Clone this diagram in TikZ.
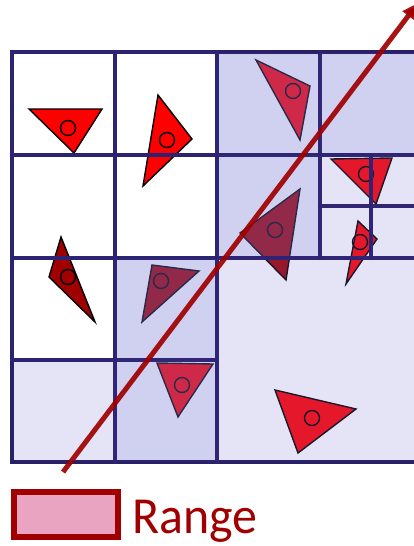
\documentclass[tikz,border=0pt]{standalone}
\usepackage{fontspec}
\newfontfamily\legendfont{Carlito}
\usetikzlibrary{arrows.meta}
\definecolor{navy}{RGB}{45,35,115}
\definecolor{cellblue}{RGB}{120,120,211}
\definecolor{darkred}{RGB}{160,0,0}
\definecolor{brightred}{RGB}{255,0,0}
\definecolor{pinkfill}{RGB}{232,164,192}
\begin{document}
\begin{tikzpicture}[x=1pt,y=-1pt,
  cellbox/.style={draw=navy,line width=3.6pt},
  whitecell/.style={cellbox},
  medcell/.style={cellbox,fill=cellblue,fill opacity=0.35,draw opacity=0.9},
  lightcell/.style={cellbox,fill=cellblue,fill opacity=0.2,draw opacity=0.9},
  tri/.style={draw=black,line width=1.4pt,line join=miter},
  ctr/.style={draw=black,line width=1.4pt},
  ray/.style={draw=darkred,line width=5pt,draw opacity=0.92,-{Triangle[length=16pt,width=14pt]}},
  legendbox/.style={draw=darkred,line width=5.5pt,fill=pinkfill}]
\useasboundingbox (0,0) rectangle (414,546);
\clip (0,0) rectangle (414,546);
% outer frame
\draw[black,line width=4.5pt] (12,52) rectangle (430,462);
% triangles
\filldraw[tri,fill=brightred] (29,109) -- (102,109) -- (74,153) -- cycle;
\draw[ctr] (68,128) circle[radius=7.5];
\filldraw[tri,fill=brightred] (158,95) -- (192,139) -- (143,186) -- cycle;
\draw[ctr] (167,140) circle[radius=7.5];
\filldraw[tri,fill=darkred] (61,237) -- (49,277) -- (95,322) -- cycle;
\draw[ctr] (68,277) circle[radius=7.5];
\filldraw[tri,fill=darkred] (152,265) -- (199,271) -- (142,322) -- cycle;
\draw[ctr] (161,281) circle[radius=7.5];
\filldraw[tri,fill=brightred] (157,363) -- (213,364) -- (178,417) -- cycle;
\draw[ctr] (182,385) circle[radius=7.5];
\filldraw[tri,fill=brightred] (275,390) -- (356,409) -- (298,453) -- cycle;
\draw[ctr] (312,418) circle[radius=7.5];
\filldraw[tri,fill=brightred] (256,60) -- (310,86) -- (300,140) -- cycle;
\draw[ctr] (293,91) circle[radius=7.5];
\filldraw[tri,fill=darkred] (300,189) -- (240,233) -- (286,280) -- cycle;
\draw[ctr] (275,230) circle[radius=7.5];
\filldraw[tri,fill=brightred] (331,159) -- (392,158) -- (376,204) -- cycle;
\draw[ctr] (366,174) circle[radius=7.5];
\filldraw[tri,fill=brightred] (358,221) -- (377,239) -- (346,284) -- cycle;
\draw[ctr] (360,242) circle[radius=7.5];
% cells
\draw[whitecell] (12,52) rectangle (115,155);
\draw[whitecell] (115,52) rectangle (217,155);
\draw[whitecell] (12,155) rectangle (115,258);
\draw[whitecell] (115,155) rectangle (217,258);
\draw[whitecell] (12,258) rectangle (115,360);
\filldraw[medcell] (217,52) rectangle (320,155);
\filldraw[medcell] (320,52) rectangle (424,155);
\filldraw[medcell] (217,155) rectangle (320,258);
\filldraw[medcell] (115,258) rectangle (217,360);
\filldraw[medcell] (115,360) rectangle (217,462);
\filldraw[lightcell] (12,360) rectangle (115,462);
\filldraw[lightcell] (217,258) rectangle (424,462);
\filldraw[lightcell] (320,155) rectangle (371,206);
\filldraw[lightcell] (371,155) rectangle (424,206);
\filldraw[lightcell] (320,206) rectangle (371,258);
\filldraw[lightcell] (371,206) rectangle (424,258);
% ray
\coordinate (raystart) at (63,472);
\coordinate (rayend) at (418,3);
\draw[ray] (raystart) -- (rayend);
% legend
\node[legendbox,minimum width=104pt,minimum height=45pt,inner sep=0pt] (lbox) at (66,514.5) {};
\node[anchor=base west,text=darkred,inner sep=0pt,font=\legendfont\fontsize{52}{52}\selectfont] (ltext) at (132,533) {\scalebox{0.96}[1]{Range}};
\end{tikzpicture}
\end{document}
